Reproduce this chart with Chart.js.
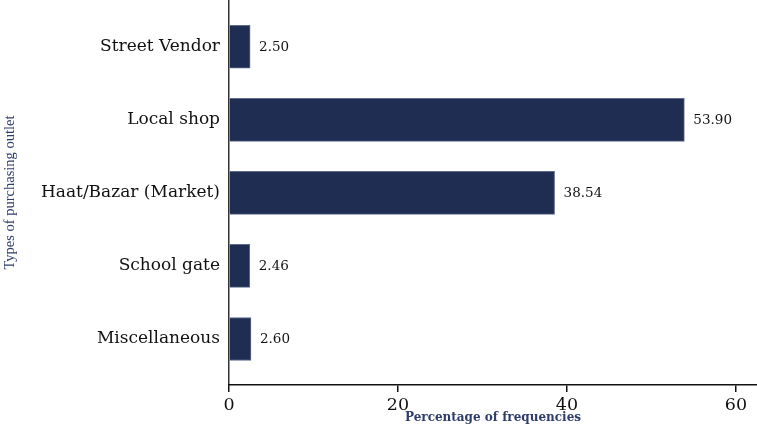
<!DOCTYPE html>
<html>
<head>
<meta charset="utf-8">
<script src="https://cdn.jsdelivr.net/npm/chart.js@4/dist/chart.umd.min.js"></script>
<style>
  html, body { margin: 0; padding: 0; background: #fff; }
  #wrap { width: 757px; height: 425px; position: relative; }
</style>
</head>
<body>
<div id="wrap"><canvas id="outletChart"></canvas></div>
<script>
const outlets = ["Street Vendor", "Local shop", "Haat/Bazar (Market)", "School gate", "Miscellaneous"];
const percentages = [2.50, 53.90, 38.54, 2.46, 2.60];
const xTicks = [0, 20, 40, 60];

const navy = "#1f2d53";

// write the value just after the end of each bar
const valueLabels = {
  id: "valueLabels",
  afterDatasetsDraw(chart) {
    const ctx = chart.ctx;
    const meta = chart.getDatasetMeta(0);
    ctx.save();
    ctx.font = "13.5px 'DejaVu Serif'";
    ctx.fillStyle = "#111";
    ctx.textAlign = "left";
    ctx.textBaseline = "middle";
    meta.data.forEach((bar, i) => {
      ctx.fillText(percentages[i].toFixed(2), bar.x + 9, bar.y + 1);
    });
    ctx.restore();
  }
};

const ctx = document.getElementById("outletChart").getContext("2d");

new Chart(ctx, {
  type: "bar",
  data: {
    datasets: [
      {
        label: "Percentage",
        data: percentages.map((v, i) => ({ x: v, y: i })),
        backgroundColor: navy,
        borderColor: "#5d6b8c",
        borderWidth: 1,
        barThickness: 43,
      },
    ],
  },
  options: {
    indexAxis: "y",
    responsive: true,
    maintainAspectRatio: false,
    animation: false,
    layout: { padding: 0 },
    plugins: {
      legend: { display: false },
      tooltip: { enabled: false },
    },
    scales: {
      y: {
        type: "linear",
        reverse: true,
        offset: false,
        min: -0.64,
        max: 4.63,
        afterBuildTicks: (s) => { s.ticks = outlets.map((_, i) => ({ value: i })); },
        afterFit: (s) => { s.width = 229; s.paddingTop = 0; s.paddingBottom = 0; },
        grid: { display: true, drawOnChartArea: false, drawTicks: false },
        border: { display: true, color: "#333", width: 1.5 },
        ticks: {
          padding: 9,
          color: "#111",
          font: { family: "'DejaVu Serif'", size: 17 },
          callback: (v) => outlets[v] ?? "",
        },
        title: {
          display: true,
          text: "Types of purchasing outlet",
          color: "#2e3d6b",
          font: { family: "'Liberation Serif'", size: 14.5 },
          padding: { top: 1, bottom: 0 },
        },
      },
      x: {
        type: "linear",
        min: 0,
        max: 62.5,
        afterBuildTicks: (s) => { s.ticks = xTicks.map((v) => ({ value: v })); },
        afterFit: (s) => { s.height = 40; s.paddingLeft = 0; s.paddingRight = 0; },
        grid: { display: true, drawOnChartArea: false, drawTicks: true, tickLength: 7, color: "#111", lineWidth: 1.5 },
        border: { display: true, color: "#111", width: 1.5 },
        ticks: {
          padding: 3,
          color: "#111",
          font: { family: "'DejaVu Serif'", size: 17.5 },
        },
        title: {
          display: true,
          text: "Percentage of frequencies",
          color: "#2e3d6b",
          font: { family: "'DejaVu Serif'", size: 12, weight: "bold" },
          padding: { top: 0, bottom: 0 },
        },
      },
    },
  },
  plugins: [valueLabels],
});
</script>
</body>
</html>
